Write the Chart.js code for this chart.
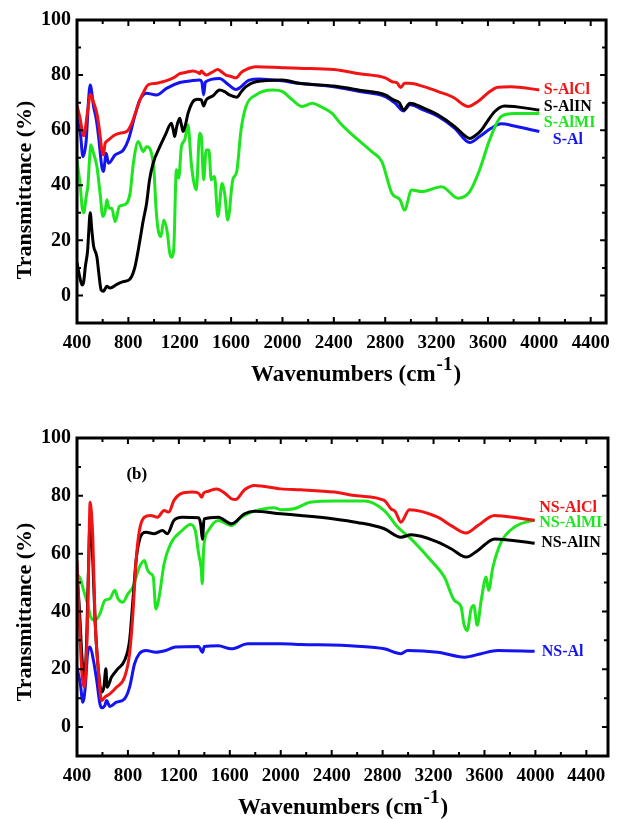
<!DOCTYPE html>
<html>
<head>
<meta charset="utf-8">
<script src="https://cdn.jsdelivr.net/npm/chart.js@4/dist/chart.umd.min.js"></script>
<style>
  body { margin: 0; background: #fff; }
  canvas { display: block; }
</style>
</head>
<body>
<canvas id="chartA" width="619" height="410"></canvas>
<canvas id="chartB" width="619" height="409"></canvas>
<script>
const SERIF = "'Times New Roman', 'Liberation Serif', serif";

const xTicks = [400, 800, 1200, 1600, 2000, 2400, 2800, 3200, 3600, 4000, 4400];
const yTicks = [0, 20, 40, 60, 80, 100];

// (a) treated samples -- [wavenumber, transmittance %]
const sAlCl = [[400,69],[425,64],[452,58],[483,67],[505,73],[530,70],[555,66],[575,60],[593,53],[606,51],[618,55],[632,56],[660,57],[684,58],[740,59],[787,59.5],[826,62.5],[860,67],[890,71],[920,74],[955,76.5],[1019,77],[1060,77.5],[1097,78],[1150,79],[1200,80.5],[1250,81],[1303,81.5],[1340,81],[1355,80.5],[1368,81.5],[1390,80.5],[1406,80],[1450,81],[1497,82],[1530,81],[1561,80],[1600,79.5],[1638,79],[1680,81],[1716,82],[1793,83],[2000,82.7],[2129,82.5],[2400,82],[2600,80.5],[2800,79],[2860,77.5],[2890,77.3],[2920,75.5],[2950,77],[2990,77],[3100,75.8],[3213,74],[3342,71.6],[3400,69.5],[3445,68.6],[3522,70.4],[3600,73.5],[3677,75.6],[3780,75.8],[4000,74.6]];
const sAlIN = [[400,12],[420,7],[439,3.8],[452,5],[465,10.5],[483,16.5],[490,22],[503,30],[515,24],[529,18],[555,14],[570,8],[588,2],[606,1.5],[620,2.5],[632,3.3],[658,2.7],[710,4],[760,5],[813,6],[852,10.5],[890,20],[915,27],[942,33.5],[965,42],[993,48],[1045,54],[1090,58.5],[1135,62.5],[1150,60],[1161,57.7],[1175,61],[1200,64.3],[1213,62],[1226,59.5],[1245,62],[1264,66],[1303,70.4],[1340,71.2],[1368,71],[1386,68.8],[1406,71],[1460,72.5],[1509,74.6],[1550,74],[1587,72.8],[1644,72],[1680,74],[1716,75.8],[1793,77.6],[2000,78.2],[2129,77],[2400,76],[2600,74.5],[2800,72.8],[2864,71],[2910,70],[2942,67.3],[2993,69.8],[3100,68],[3213,65.5],[3342,61.3],[3420,58],[3458,57],[3500,58],[3548,60],[3600,63.5],[3651,66.7],[3729,68.8],[4000,67.3]];
const sAlMI = [[400,49],[426,39.5],[440,32],[452,30],[472,36],[485,40],[497,49],[508,54.7],[529,51.6],[555,46.8],[580,37],[601,28.7],[619,30.5],[632,34.7],[650,31.7],[671,31.7],[697,26.8],[730,32.3],[774,33],[813,37],[839,48],[877,55.9],[916,52.2],[942,54],[980,51.6],[999,45.6],[1015,32],[1032,23.8],[1053,21.4],[1076,27.4],[1104,22.6],[1120,16],[1135,13.9],[1153,16.6],[1174,45.6],[1192,42.6],[1213,54],[1239,56.5],[1264,62],[1290,48],[1310,41],[1329,38.3],[1355,58.9],[1368,57.7],[1386,42],[1406,52.8],[1427,52.8],[1445,42],[1471,43.2],[1497,28.7],[1530,40.7],[1550,37],[1574,27.4],[1613,42],[1644,45],[1677,60],[1716,68.6],[1793,72.8],[1922,74.6],[2000,74],[2077,71],[2155,68.6],[2232,69.8],[2300,68.5],[2387,66.1],[2450,62.5],[2516,59.5],[2619,55.3],[2700,52],[2774,48.6],[2852,37.1],[2916,34.7],[2950,31],[3006,38.3],[3084,37.7],[3239,39.5],[3368,35.3],[3458,37.7],[3535,45.6],[3613,56.5],[3703,65],[3806,66.1],[4000,66.1]];
const sAl = [[400,64.3],[426,59],[446,50.4],[472,56.5],[490,71],[503,76.4],[529,68.6],[550,64],[568,57.7],[593,46.8],[606,45],[627,51.6],[645,48],[697,51],[761,52.8],[800,56.5],[852,65.5],[890,71],[942,73.4],[1019,72.8],[1097,75.2],[1200,77.3],[1300,78],[1355,78.2],[1372,77.5],[1386,72.8],[1400,77.5],[1509,78.8],[1580,76.5],[1638,74.8],[1742,78.2],[1819,78.6],[2000,77.9],[2129,77],[2400,75.8],[2600,74],[2800,72.2],[2877,69.8],[2942,67],[2993,69.2],[3100,67.3],[3213,65],[3342,60.7],[3458,55.5],[3535,57.7],[3625,60.7],[3703,62.3],[3806,61.5],[4000,59.5]];

// (b) untreated samples
const nsAlCl = [[400,57.6],[418,36.9],[439,18.4],[457,13.8],[483,36.9],[495,65],[503,77.8],[512,75],[524,65.7],[542,36.9],[568,19.6],[593,9.2],[619,10.4],[658,11.5],[710,13.8],[774,17.3],[813,25.4],[839,39.2],[864,57.6],[890,68],[929,72.6],[980,73.2],[1032,72.6],[1084,74.9],[1122,74.4],[1161,78.4],[1213,80.7],[1303,81.3],[1355,80.9],[1380,79.5],[1395,81],[1432,81.6],[1497,82.4],[1561,80.9],[1613,79],[1644,78.7],[1716,82.1],[1793,83.6],[2000,82.4],[2156,82.1],[2420,81.3],[2600,80],[2813,78.4],[2866,75.5],[2900,74.5],[2944,70.9],[3010,75.2],[3233,72.6],[3338,69.7],[3456,67.1],[3548,69.7],[3679,73.2],[3757,72.9],[3994,71.5]];
const nsAlIN = [[400,53],[418,41.5],[439,24.2],[452,17.3],[472,25.4],[490,54.2],[503,71.5],[512,68],[524,57.6],[542,36.9],[568,19.6],[593,12.1],[611,13.8],[627,20.2],[637,13.8],[671,17.3],[722,20.2],[774,23.1],[813,30],[839,43.8],[864,57.6],[890,64.6],[942,67.4],[1006,66.9],[1071,68],[1110,66.9],[1161,71.5],[1226,72.6],[1355,72.4],[1372,70],[1385,65],[1398,72],[1509,72.6],[1613,70.3],[1716,73.8],[1793,74.7],[2000,73.8],[2156,73.2],[2420,72],[2600,70.8],[2813,68.6],[2944,65.7],[3023,66.5],[3233,64],[3338,61.7],[3456,58.8],[3548,61.1],[3679,65.1],[3994,63.6]];
const nsAlMI = [[400,53],[426,51.3],[452,47.3],[483,42.7],[508,38],[542,36.9],[580,39.2],[619,43.8],[658,44.4],[697,47.3],[722,44.4],[761,43.2],[800,46.1],[839,48.4],[890,55.3],[929,57.6],[955,54.2],[980,53],[999,51.9],[1019,40.9],[1045,45],[1084,56.5],[1135,63.4],[1226,68],[1290,70.1],[1329,68],[1355,60],[1375,55],[1384,49.6],[1395,62],[1432,68],[1509,71.5],[1613,69.7],[1690,72.6],[1793,74.7],[1948,75.9],[2000,75.2],[2103,75.5],[2232,77.8],[2420,78.2],[2656,78.2],[2813,74.9],[2918,69.2],[3023,65.1],[3180,57.6],[3285,51.9],[3364,43.8],[3417,41.5],[3438,35.7],[3464,33.4],[3495,40.9],[3516,42.1],[3543,35.2],[3574,43.8],[3613,51.9],[3632,47.3],[3666,55.3],[3731,64],[3836,69.2],[3994,71.7]];
const nsAl = [[400,20.7],[426,15],[446,8.6],[465,13.8],[483,25.4],[503,27.7],[529,23.1],[555,16.1],[580,8.1],[593,6.7],[619,7.5],[632,9.2],[658,7.1],[710,8.6],[774,9.8],[813,13.8],[852,21.9],[890,25.4],[942,26.5],[1019,25.9],[1097,26.5],[1174,27.7],[1355,27.9],[1386,25.9],[1400,27.9],[1509,28.1],[1613,27.1],[1742,28.8],[2000,28.8],[2156,28.6],[2600,28],[2813,27.1],[2944,25.4],[2997,26.5],[3233,25.9],[3443,24.2],[3574,25.4],[3705,26.5],[3994,26.2]];

const namesA = ['S-AlCl', 'S-AlIN', 'S-AlMI', 'S-Al'];
const namesB = ['NS-AlCl', 'NS-AlIN', 'NS-AlMI', 'NS-Al'];
const colors = ['#f21414', '#000000', '#1ee61e', '#1414f0'];

// where the series names sit, in data units [wavenumber, %]
const tagsA = [[4035, 74.6], [4035, 68.6], [4035, 62.6], [4105, 56.5]];
const tagsB = [[4030, 75.8], [4045, 63.7], [4030, 70.6], [4050, 26]];

// draws the box, inward ticks, axis titles and series names
const decor = {
  id: 'decor',
  afterDraw(chart, args, o) {
    const {ctx, chartArea: a, scales: {x, y}} = chart;
    ctx.save();
    ctx.strokeStyle = '#000';
    ctx.lineWidth = 2;
    ctx.beginPath();
    for (let v = 400; v <= x.max; v += 200) {
      const px = x.getPixelForValue(v);
      const len = v % 400 === 0 ? 6 : 4;
      ctx.moveTo(px, a.bottom); ctx.lineTo(px, a.bottom - len);
      ctx.moveTo(px, a.top); ctx.lineTo(px, a.top + len);
    }
    for (let v = 0; v < 100; v += 10) {
      const py = y.getPixelForValue(v);
      const len = v % 20 === 0 ? 6 : 4;
      ctx.moveTo(a.left, py); ctx.lineTo(a.left + len, py);
      ctx.moveTo(a.right, py); ctx.lineTo(a.right - len, py);
    }
    ctx.stroke();
    ctx.lineWidth = 3;
    ctx.strokeRect(a.left, a.top, a.right - a.left, a.bottom - a.top);

    // series names
    ctx.font = 'bold 16px ' + SERIF;
    ctx.textBaseline = 'middle';
    ctx.textAlign = 'left';
    o.names.forEach((n, i) => {
      ctx.fillStyle = colors[i];
      ctx.fillText(n, x.getPixelForValue(o.tags[i][0]), y.getPixelForValue(o.tags[i][1]));
    });
    if (o.panel) {
      ctx.fillStyle = '#000';
      ctx.font = 'bold 17px ' + SERIF;
      ctx.textAlign = 'center';
      ctx.fillText(o.panel, x.getPixelForValue(870), y.getPixelForValue(87.5));
    }

    // x title with superscript
    ctx.fillStyle = '#000';
    ctx.textBaseline = 'alphabetic';
    ctx.textAlign = 'left';
    const big = 'bold 23px ' + SERIF, small = 'bold 19px ' + SERIF;
    ctx.font = big;
    const w1 = ctx.measureText('Wavenumbers (cm').width;
    const w3 = ctx.measureText(')').width;
    ctx.font = small;
    const w2 = ctx.measureText('-1').width;
    const sx = o.xTitle[0] - (w1 + w2 + w3) / 2;
    const by = o.xTitle[1];
    ctx.font = big;
    ctx.fillText('Wavenumbers (cm', sx, by);
    ctx.font = small;
    ctx.fillText('-1', sx + w1 + 1, by - 11);
    ctx.font = big;
    ctx.fillText(')', sx + w1 + w2 + 2, by);

    // y title
    ctx.translate(o.yTitle[0], o.yTitle[1]);
    ctx.rotate(-Math.PI / 2);
    ctx.textAlign = 'center';
    ctx.textBaseline = 'middle';
    ctx.font = 'bold 22px ' + SERIF;
    ctx.fillText('Transmittance (%)', 0, 0);
    ctx.restore();
  }
};

function makeConfig(series, names, tags, xMax, padTop, xHeight, extra) {
  return {
    type: 'line',
    data: {
      datasets: series.map((s, i) => ({
        label: names[i],
        data: s,
        borderColor: colors[i],
        borderWidth: 3,
        pointRadius: 0,
        fill: false,
        cubicInterpolationMode: 'monotone'
      }))
    },
    options: {
      responsive: false,
      animation: false,
      layout: {padding: {top: padTop, right: 11, left: 0, bottom: 0}},
      plugins: {
        legend: {display: false},
        tooltip: {enabled: false},
        decor: Object.assign({names, tags}, extra)
      },
      scales: {
        x: {
          type: 'linear',
          min: 400,
          max: xMax,
          grid: {display: false, drawTicks: false},
          border: {display: false},
          afterBuildTicks: sc => { sc.ticks = xTicks.map(v => ({value: v})); },
          afterFit: sc => { sc.height = xHeight; },
          ticks: {
            autoSkip: false,
            maxRotation: 0,
            padding: 9,
            color: '#000',
            font: {family: SERIF, size: 19, weight: 'bold'},
            callback: v => String(v)
          }
        },
        y: {
          min: -10,
          max: 100,
          grid: {display: false, drawTicks: false},
          border: {display: false},
          afterBuildTicks: sc => { sc.ticks = yTicks.map(v => ({value: v})); },
          afterFit: sc => { sc.width = 77; },
          ticks: {
            padding: 6,
            color: '#000',
            font: {family: SERIF, size: 20, weight: 'bold'},
            callback: v => String(v)
          }
        }
      }
    },
    plugins: [decor]
  };
}

new Chart(document.getElementById('chartA'),
  makeConfig([sAlCl, sAlIN, sAlMI, sAl], namesA, tagsA, 4520, 20, 87,
    {xTitle: [355, 381], yTitle: [25, 190]}));

new Chart(document.getElementById('chartB'),
  makeConfig([nsAlCl, nsAlIN, nsAlMI, nsAl], namesB, tagsB, 4570, 28, 63,
    {xTitle: [342, 404], yTitle: [25, 202], panel: '(b)'}));
</script>
</body>
</html>
